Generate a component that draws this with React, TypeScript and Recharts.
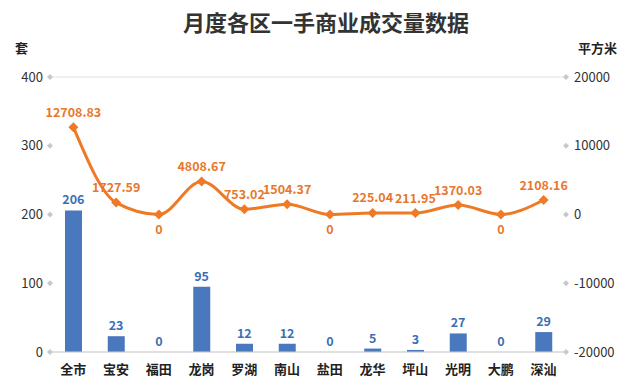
import React from "react";
import {
  ComposedChart,
  Bar,
  Line,
  XAxis,
  YAxis,
  CartesianGrid,
  LabelList,
} from "recharts";

const districts = ["全市", "宝安", "福田", "龙岗", "罗湖", "南山", "盐田", "龙华", "坪山", "光明", "大鹏", "深汕"];
const units = [206, 23, 0, 95, 12, 12, 0, 5, 3, 27, 0, 29];
const area = [12708.83, 1727.59, 0, 4808.67, 753.02, 1504.37, 0, 225.04, 211.95, 1370.03, 0, 2108.16];
const leftTicks = [0, 100, 200, 300, 400];
const rightTicks = [-20000, -10000, 0, 10000, 20000];

const FONT = '"Noto Sans CJK SC", "Noto Sans", sans-serif';
const BLUE = "#4a78bf";
const ORANGE = "#ee7a25";

const data = districts.map((name, i) => ({ name, units: units[i], area: area[i] }));

const LeftTick = (props: any) => {
  const { x, y, payload } = props;
  return (
    <g>
      <path d={`M${x - 2},${y - 3}L${x + 1},${y}L${x - 2},${y + 3}L${x - 5},${y}Z`} fill="#c8c8c8" />
      <text x={x - 9} y={y + 4.5} textAnchor="end" fontSize={13} fill="#333" fontFamily={FONT}>
        {payload.value}
      </text>
    </g>
  );
};

const RightTick = (props: any) => {
  const { x, y, payload } = props;
  return (
    <g>
      <path d={`M${x + 1},${y - 3}L${x + 4},${y}L${x + 1},${y + 3}L${x - 2},${y}Z`} fill="#c8c8c8" />
      <text x={x + 9} y={y + 4.5} textAnchor="start" fontSize={13} fill="#333" fontFamily={FONT}>
        {payload.value}
      </text>
    </g>
  );
};

const Diamond = (props: any) => {
  const { cx, cy } = props;
  if (cx == null || cy == null) return null;
  return <path d={`M${cx},${cy - 5}L${cx + 5},${cy}L${cx},${cy + 5}L${cx - 5},${cy}Z`} fill={ORANGE} />;
};

const AreaLabel = (props: any) => {
  const { x, y, value } = props;
  const below = value === 0;
  return (
    <text
      x={x}
      y={below ? y + 19.5 : y - 10.5}
      textAnchor="middle"
      fontSize={12.5}
      fontWeight={600}
      fill="#e8772c"
      fontFamily={FONT}
    >
      {value}
    </text>
  );
};

// bar value labels, drawn from a hidden line so zero bars get one too
const UnitLabel = (props: any) => {
  const { x, y, value } = props;
  return (
    <text x={x} y={y - 6} textAnchor="middle" fontSize={12.5} fontWeight={700} fill="#3a6fb8" fontFamily={FONT}>
      {value}
    </text>
  );
};

export default function App() {
  return (
    <div style={{ position: "fixed", left: 0, top: 0, width: 640, height: 379, background: "#fff", fontFamily: FONT }}>
      <div
        style={{
          position: "absolute",
          top: 8,
          left: 0,
          width: 652,
          textAlign: "center",
          fontSize: 22,
          lineHeight: "26px",
          fontWeight: 700,
          color: "#333",
        }}
      >
        月度各区一手商业成交量数据
      </div>
      <div style={{ position: "absolute", left: 15, top: 38, fontSize: 13, fontWeight: 700, color: "#222" }}>套</div>
      <div style={{ position: "absolute", left: 578, top: 38, fontSize: 13, fontWeight: 700, color: "#222" }}>平方米</div>
      <ComposedChart width={640} height={379} data={data} margin={{ top: 77, right: 0, bottom: 0, left: 0 }}>
        <CartesianGrid horizontal vertical={false} stroke="#e2e2e2" />
        <XAxis
          dataKey="name"
          height={27}
          interval={0}
          tickLine={false}
          axisLine={{ stroke: "#cfcfcf" }}
          tickMargin={7}
          tick={{ fontSize: 13, fontWeight: 700, fill: "#222", fontFamily: FONT }}
        />
        <YAxis
          yAxisId="left"
          width={52}
          domain={[0, 400]}
          ticks={leftTicks}
          axisLine={false}
          tickLine={false}
          tickSize={0}
          tickMargin={0}
          tick={<LeftTick />}
        />
        <YAxis
          yAxisId="right"
          orientation="right"
          width={75}
          domain={[-20000, 20000]}
          ticks={rightTicks}
          axisLine={false}
          tickLine={false}
          tickSize={0}
          tickMargin={0}
          tick={<RightTick />}
        />
        <Bar yAxisId="left" dataKey="units" fill={BLUE} barSize={17} isAnimationActive={false} />
        <Line
          yAxisId="left"
          dataKey="units"
          stroke="none"
          dot={false}
          activeDot={false}
          isAnimationActive={false}
        >
          <LabelList dataKey="units" content={<UnitLabel />} />
        </Line>
        <Line
          yAxisId="right"
          dataKey="area"
          type="monotone"
          stroke={ORANGE}
          strokeWidth={3}
          dot={<Diamond />}
          activeDot={false}
          isAnimationActive={false}
        >
          <LabelList dataKey="area" content={<AreaLabel />} />
        </Line>
      </ComposedChart>
    </div>
  );
}
